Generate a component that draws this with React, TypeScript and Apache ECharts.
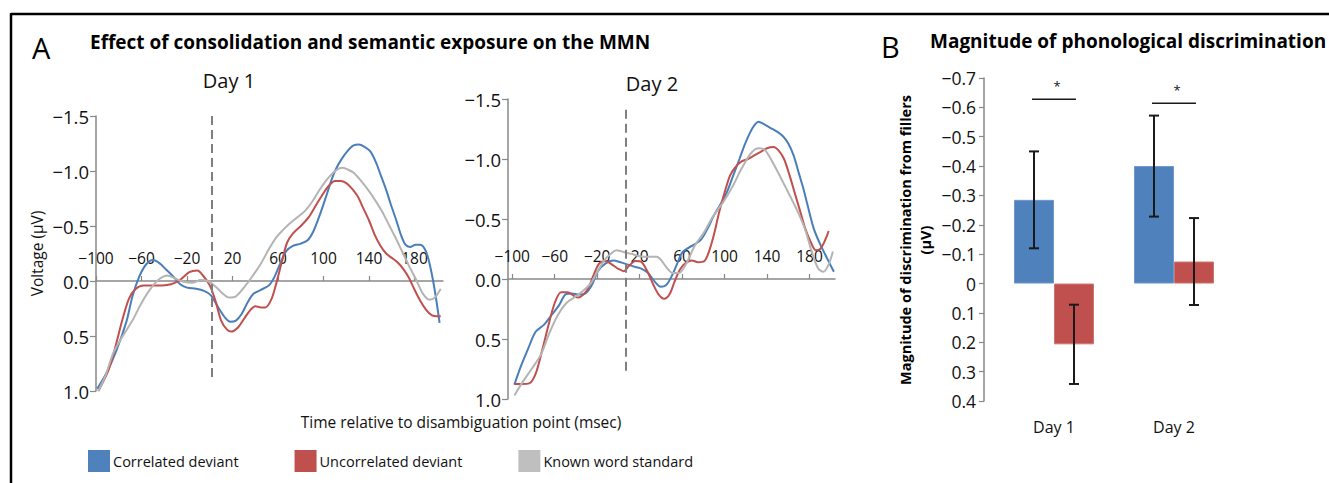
import React, { useEffect, useRef } from 'react';
import * as echarts from 'echarts';

// ---------- data ----------
const timeTicks = [-100, -60, -20, 20, 60, 100, 140, 180];
const seriesNames = ['Correlated deviant', 'Uncorrelated deviant', 'Known word standard'];

// Day 1 (time in msec, voltage in µV)
const day1BlueT = [-99, -91, -82, -73, -68, -62, -56, -50, -44, -38, -32, -26, -20, -12, -5, 1, 8, 14, 18, 23, 28, 33, 38, 45, 52, 57, 62, 67, 73, 80, 86, 91, 96, 102, 107, 111, 116, 121, 126, 131, 136, 141, 146, 150, 155, 159, 164, 168, 172, 176, 181, 185, 190, 194, 198, 202];
const day1BlueV = [0.98, 0.84, 0.63, 0.36, 0.14, -0.04, -0.15, -0.19, -0.16, -0.10, -0.04, 0.03, 0.06, 0.07, 0.09, 0.13, 0.25, 0.34, 0.37, 0.36, 0.30, 0.20, 0.12, 0.08, 0.04, -0.04, -0.16, -0.27, -0.32, -0.34, -0.37, -0.45, -0.58, -0.76, -0.92, -1.02, -1.11, -1.18, -1.23, -1.24, -1.22, -1.18, -1.08, -0.97, -0.83, -0.70, -0.55, -0.42, -0.33, -0.31, -0.33, -0.33, -0.27, -0.12, 0.10, 0.38];
const day1RedT = [-98, -89, -83, -77, -71, -65, -58, -50, -42, -34, -26, -18, -11, -6, 0, 5, 10, 15, 19, 25, 31, 36, 40, 45, 49, 54, 58, 61, 64, 68, 73, 80, 87, 94, 100, 105, 110, 115, 120, 125, 130, 135, 140, 145, 150, 155, 160, 165, 170, 175, 180, 185, 190, 195, 200, 203];
const day1RedV = [1.0, 0.81, 0.6, 0.36, 0.16, 0.07, 0.04, 0.04, 0.04, 0.03, -0.01, -0.08, -0.095, -0.05, 0.04, 0.18, 0.36, 0.44, 0.46, 0.42, 0.33, 0.26, 0.23, 0.24, 0.24, 0.17, 0.04, -0.08, -0.2, -0.35, -0.43, -0.50, -0.58, -0.70, -0.80, -0.87, -0.91, -0.91, -0.89, -0.84, -0.77, -0.66, -0.55, -0.42, -0.32, -0.25, -0.21, -0.17, -0.11, -0.03, 0.08, 0.18, 0.26, 0.31, 0.32, 0.32];
const day1GrayT = [-98, -92, -85, -77, -68, -60, -52, -44, -37, -30, -22, -15, -8, -2, 5, 11, 17, 23, 30, 38, 45, 52, 58, 64, 70, 77, 84, 90, 96, 102, 108, 113, 117, 122, 127, 133, 139, 145, 151, 157, 163, 169, 175, 181, 187, 193, 198, 203];
const day1GrayV = [1.0, 0.87, 0.66, 0.51, 0.36, 0.2, 0.07, -0.02, -0.05, -0.02, 0.01, 0.015, -0.01, 0.0, 0.05, 0.11, 0.15, 0.14, 0.06, -0.05, -0.16, -0.29, -0.39, -0.46, -0.52, -0.58, -0.64, -0.72, -0.82, -0.91, -0.98, -1.02, -1.03, -1.01, -0.98, -0.91, -0.83, -0.74, -0.64, -0.52, -0.40, -0.27, -0.14, -0.02, 0.11, 0.17, 0.15, 0.07];

// Day 2
const day2BlueT = [-98, -92, -85, -78, -70, -63, -56, -50, -44, -37, -31, -25, -19, -12, -5, 2, 9, 16, 22, 28, 34, 40, 45, 50, 55, 60, 66, 72, 78, 84, 90, 96, 102, 108, 114, 119, 124, 128, 132, 137, 143, 149, 155, 160, 165, 170, 174, 178, 184, 190, 195, 200, 203];
const day2BlueV = [0.88, 0.73, 0.58, 0.44, 0.38, 0.30, 0.22, 0.13, 0.12, 0.13, 0.12, 0.05, -0.07, -0.13, -0.155, -0.14, -0.12, -0.10, -0.085, -0.05, 0.02, 0.065, 0.05, -0.02, -0.12, -0.22, -0.26, -0.29, -0.33, -0.42, -0.53, -0.62, -0.72, -0.86, -1.0, -1.12, -1.22, -1.28, -1.31, -1.29, -1.26, -1.23, -1.19, -1.13, -1.03, -0.88, -0.76, -0.62, -0.42, -0.29, -0.20, -0.11, -0.06];
const day2RedT = [-98, -91, -84, -78, -72, -66, -60, -54, -48, -42, -38, -33, -28, -24, -18, -12, -6, 0, 5, 10, 16, 22, 28, 33, 38, 43, 48, 53, 58, 63, 69, 75, 81, 85, 90, 95, 100, 105, 110, 116, 122, 128, 134, 140, 146, 151, 156, 161, 166, 171, 176, 181, 186, 190, 194, 198];
const day2RedV = [0.875, 0.875, 0.87, 0.79, 0.60, 0.39, 0.20, 0.11, 0.11, 0.14, 0.155, 0.13, 0.07, -0.02, -0.13, -0.15, -0.12, -0.085, -0.065, -0.11, -0.15, -0.14, -0.05, 0.05, 0.13, 0.165, 0.13, 0.02, -0.08, -0.13, -0.155, -0.14, -0.15, -0.22, -0.37, -0.56, -0.72, -0.86, -0.93, -0.98, -1.0, -1.03, -1.06, -1.09, -1.10, -1.07, -1.0, -0.87, -0.72, -0.57, -0.42, -0.31, -0.24, -0.25, -0.31, -0.40];
const day2GrayT = [-98, -90, -81, -73, -65, -57, -49, -41, -34, -26, -19, -13, -7, -2, 3, 7, 12, 20, 28, 36, 40, 45, 51, 57, 64, 72, 80, 89, 99, 108, 116, 125, 132, 138, 146, 154, 162, 169, 176, 182, 188, 193, 198, 202];
const day2GrayV = [0.97, 0.855, 0.74, 0.63, 0.45, 0.30, 0.20, 0.15, 0.105, 0.035, -0.075, -0.16, -0.21, -0.24, -0.23, -0.22, -0.21, -0.19, -0.185, -0.185, -0.16, -0.10, -0.05, -0.05, -0.13, -0.28, -0.38, -0.52, -0.645, -0.78, -0.92, -1.05, -1.09, -1.075, -0.96, -0.825, -0.685, -0.56, -0.41, -0.23, -0.09, -0.06, -0.12, -0.23];

// disambiguation point marker (msec) and its vertical extent (µV)
const onsetDay1 = 1.6;
const onsetDay2 = 6.5;
const onsetSpanDay1 = [-1.5, 0.9];
const onsetSpanDay2 = [-1.41, 0.8];

// Panel B
const barCategories = ['Day 1', 'Day 2'];
const correlatedMeans = [-0.285, -0.40];
const correlatedErr = [0.165, 0.172];
const uncorrelatedMeans = [0.207, -0.075];
const uncorrelatedErr = [0.135, 0.148];
const sigLevels = [-0.628, -0.614];

// ---------- styling ----------
const FONT = '"Open Sans", Lato, sans-serif';
const BLUE_LINE = '#4a7ebb';
const RED_LINE = '#c0504d';
const GRAY_LINE = '#b4b4b4';
const BLUE = '#4f81bd';
const RED = '#c0504d';
const GRAY = '#bfbfbf';
const AXIS = '#898989';
const V_MIN = -1.5;
const V_MAX = 1.0;

const minus = (s: string) => s.replace('-', '\u2212');
const pair = (t: number[], v: number[]) => t.map((x, i) => [x, v[i]]);

export default function App() {
  const ref = useRef<HTMLDivElement>(null);

  useEffect(() => {
    document.body.style.margin = '0';
    if (!ref.current) return;
    const chart = echarts.init(ref.current, undefined, { renderer: 'svg' });

    const day1Grid = { left: 96, top: 116, width: 347, height: 275 };
    const day2Grid = { left: 508, top: 99, width: 327, height: 300 };
    // grids whose bottom edge sits on the zero line: they carry the visible time axes
    const zeroFrac = (0 - V_MIN) / (V_MAX - V_MIN);
    const axisGrid = (g: any) => ({ left: g.left, top: g.top, width: g.width, height: g.height * zeroFrac });

    const hiddenX = (gi: number, min: number, max: number) => ({ type: 'value', gridIndex: gi, min, max, show: false });
    const timeAxis = (gi: number, min: number, max: number) => ({
      type: 'value', gridIndex: gi, min, max,
      axisLine: { onZero: false, lineStyle: { color: AXIS, width: 1.5 } },
      axisTick: { show: true, inside: true, length: 5, customValues: timeTicks, lineStyle: { color: AXIS, width: 1.2 } },
      axisLabel: {
        inside: true, margin: 15, customValues: timeTicks, color: '#111', fontSize: 15.5, fontFamily: FONT,
        formatter: (v: number) => minus(String(v)),
      },
      splitLine: { show: false },
    });
    const voltAxis = (gi: number) => ({
      type: 'value', gridIndex: gi, min: V_MIN, max: V_MAX, interval: 0.5, inverse: true,
      axisLine: { show: true, onZero: false, lineStyle: { color: AXIS, width: 1.5 } },
      axisTick: { show: true, length: 6, lineStyle: { color: AXIS, width: 1.2 } },
      axisLabel: {
        margin: 7, color: '#111', fontSize: 18.5, lineHeight: 19, fontFamily: FONT,
        formatter: (v: number) => (Math.abs(v) < 1e-9 ? '0.0' : minus(v.toFixed(1))),
      },
      splitLine: { show: false },
    });
    const lineSeries = (name: string, gi: number, t: number[], v: number[], lineColor: string, legendColor: string, markLine?: any) => ({
      type: 'line', name, xAxisIndex: gi, yAxisIndex: gi, data: pair(t, v),
      showSymbol: false, symbol: 'none', smooth: 0.3, silent: true,
      lineStyle: { color: lineColor, width: 2 }, itemStyle: { color: legendColor },
      markLine,
    });
    const onsetLine = (t: number, span: number[]) => ({
      silent: true, symbol: 'none', label: { show: false },
      lineStyle: { color: '#7f7f7f', width: 2, type: [9, 5] },
      data: [[{ coord: [t, span[0]] }, { coord: [t, span[1]] }]],
    });

    const errorSeries = (means: number[], errs: number[], offset: number) => ({
      type: 'custom', xAxisIndex: 2, yAxisIndex: 2, silent: true, z: 5,
      data: means.map((m, i) => [i, m - errs[i], m + errs[i]]),
      renderItem: (_p: any, api: any) => {
        const cat = api.value(0);
        const x = api.coord([cat, 0])[0] + offset;
        const y1 = api.coord([cat, api.value(1)])[1];
        const y2 = api.coord([cat, api.value(2)])[1];
        const st = { stroke: '#1a1a1a', lineWidth: 2 };
        return {
          type: 'group',
          children: [
            { type: 'line', shape: { x1: x, y1, x2: x, y2 }, style: st },
            { type: 'line', shape: { x1: x - 5, y1, x2: x + 5, y2: y1 }, style: st },
            { type: 'line', shape: { x1: x - 5, y1: y2, x2: x + 5, y2 }, style: st },
          ],
        };
      },
    });

    const option: any = {
      animation: false,
      textStyle: { fontFamily: FONT },
      grid: [
        day1Grid,
        day2Grid,
        { left: 994, top: 78, width: 240, height: 323 },
        axisGrid(day1Grid),
        axisGrid(day2Grid),
      ],
      xAxis: [
        hiddenX(0, -100, 205),
        hiddenX(1, -104, 204),
        {
          type: 'category', gridIndex: 2, data: barCategories,
          axisLine: { show: false, onZero: false }, axisTick: { show: false },
          axisLabel: { margin: 18, color: '#111', fontSize: 16, fontFamily: FONT },
        },
        timeAxis(3, -100, 205),
        timeAxis(4, -104, 204),
      ],
      yAxis: [
        { ...voltAxis(0), name: 'Voltage (\u00b5V)', nameLocation: 'middle', nameRotate: 90, nameGap: 51,
          nameTextStyle: { color: '#111', fontSize: 15.5, fontFamily: FONT } },
        voltAxis(1),
        {
          type: 'value', gridIndex: 2, min: -0.7, max: 0.4, interval: 0.1, inverse: true, offset: 10,
          axisLine: { show: true, onZero: false, lineStyle: { color: AXIS, width: 1.5 } },
          axisTick: { show: true, length: 5, lineStyle: { color: AXIS, width: 1.2 } },
          axisLabel: {
            margin: 8, color: '#111', fontSize: 17.5, fontFamily: FONT,
            formatter: (v: number) => (Math.abs(v) < 1e-9 ? '0' : minus(v.toFixed(1))),
          },
          splitLine: { show: false },
        },
        { type: 'value', gridIndex: 3, show: false, min: 0, max: 1 },
        { type: 'value', gridIndex: 4, show: false, min: 0, max: 1 },
      ],
      legend: {
        data: seriesNames, left: 88, top: 450, padding: 0, icon: 'rect', itemWidth: 22, itemHeight: 22, itemGap: 56,
        selectedMode: false, textStyle: { color: '#111', fontSize: 14.5, fontFamily: FONT, padding: [0, 0, 0, -2] },
      },
      series: [
        lineSeries(seriesNames[0], 0, day1BlueT, day1BlueV, BLUE_LINE, BLUE, onsetLine(onsetDay1, onsetSpanDay1)),
        lineSeries(seriesNames[1], 0, day1RedT, day1RedV, RED_LINE, RED),
        lineSeries(seriesNames[2], 0, day1GrayT, day1GrayV, GRAY_LINE, GRAY),
        lineSeries(seriesNames[0], 1, day2BlueT, day2BlueV, BLUE_LINE, BLUE, onsetLine(onsetDay2, onsetSpanDay2)),
        lineSeries(seriesNames[1], 1, day2RedT, day2RedV, RED_LINE, RED),
        lineSeries(seriesNames[2], 1, day2GrayT, day2GrayV, GRAY_LINE, GRAY),
        {
          type: 'bar', name: seriesNames[0], xAxisIndex: 2, yAxisIndex: 2, data: correlatedMeans,
          barWidth: 40, barGap: '0%', silent: true, itemStyle: { color: BLUE, borderColor: '#6f97c9', borderWidth: 1 },
        },
        {
          type: 'bar', name: seriesNames[1], xAxisIndex: 2, yAxisIndex: 2, data: uncorrelatedMeans,
          barWidth: 40, barGap: '0%', silent: true, itemStyle: { color: RED, borderColor: '#cf7471', borderWidth: 1 },
        },
        errorSeries(correlatedMeans, correlatedErr, -20),
        errorSeries(uncorrelatedMeans, uncorrelatedErr, 20),
        {
          type: 'custom', xAxisIndex: 2, yAxisIndex: 2, silent: true, z: 5,
          data: sigLevels.map((s, i) => [i, s]),
          renderItem: (_p: any, api: any) => {
            const c = api.coord([api.value(0), api.value(1)]);
            return {
              type: 'group',
              children: [
                { type: 'line', shape: { x1: c[0] - 22, y1: c[1], x2: c[0] + 22, y2: c[1] }, style: { stroke: '#1a1a1a', lineWidth: 1.5 } },
                { type: 'text', x: c[0] + 3, y: c[1] - 13, style: { text: '*', fill: '#111', fontSize: 13, fontFamily: FONT, align: 'center', verticalAlign: 'middle' } },
              ],
            };
          },
        },
      ],
      graphic: [
        { type: 'line', shape: { x1: 11, y1: 14, x2: 1329, y2: 14 }, style: { stroke: '#000', lineWidth: 2.5 }, silent: true },
        { type: 'line', shape: { x1: 11, y1: 13, x2: 11, y2: 483 }, style: { stroke: '#000', lineWidth: 2.5 }, silent: true },
        { type: 'text', x: 32, y: 47, style: { text: 'A', fill: '#000', fontSize: 29, fontFamily: FONT, verticalAlign: 'middle' } },
        { type: 'text', x: 90, y: 42, style: { text: 'Effect of consolidation and semantic exposure on the MMN', fill: '#000', fontSize: 19, fontWeight: 'bold', fontFamily: FONT, verticalAlign: 'middle' } },
        { type: 'text', x: 229, y: 80, style: { text: 'Day 1', fill: '#111', fontSize: 20, fontFamily: FONT, align: 'center', verticalAlign: 'middle' } },
        { type: 'text', x: 652, y: 83, style: { text: 'Day 2', fill: '#111', fontSize: 20, fontFamily: FONT, align: 'center', verticalAlign: 'middle' } },
        { type: 'text', x: 461, y: 422, style: { text: 'Time relative to disambiguation point (msec)', fill: '#111', fontSize: 15.5, lineHeight: 17, fontFamily: FONT, align: 'center', verticalAlign: 'middle' } },
        { type: 'text', x: 881, y: 46, style: { text: 'B', fill: '#000', fontSize: 29, fontFamily: FONT, verticalAlign: 'middle' } },
        { type: 'text', x: 930, y: 41, style: { text: 'Magnitude of phonological discrimination', fill: '#000', fontSize: 19, fontWeight: 'bold', fontFamily: FONT, verticalAlign: 'middle' } },
        { type: 'text', x: 915, y: 240, rotation: Math.PI / 2, style: { text: 'Magnitude of discrimination from fillers\n(\u00b5V)', fill: '#000', fontSize: 14.5, fontWeight: 'bold', fontFamily: FONT, align: 'center', verticalAlign: 'middle', lineHeight: 20 } },
      ],
    };

    chart.setOption(option);
    return () => chart.dispose();
  }, []);

  return <div ref={ref} style={{ width: 1329, height: 483 }} />;
}
